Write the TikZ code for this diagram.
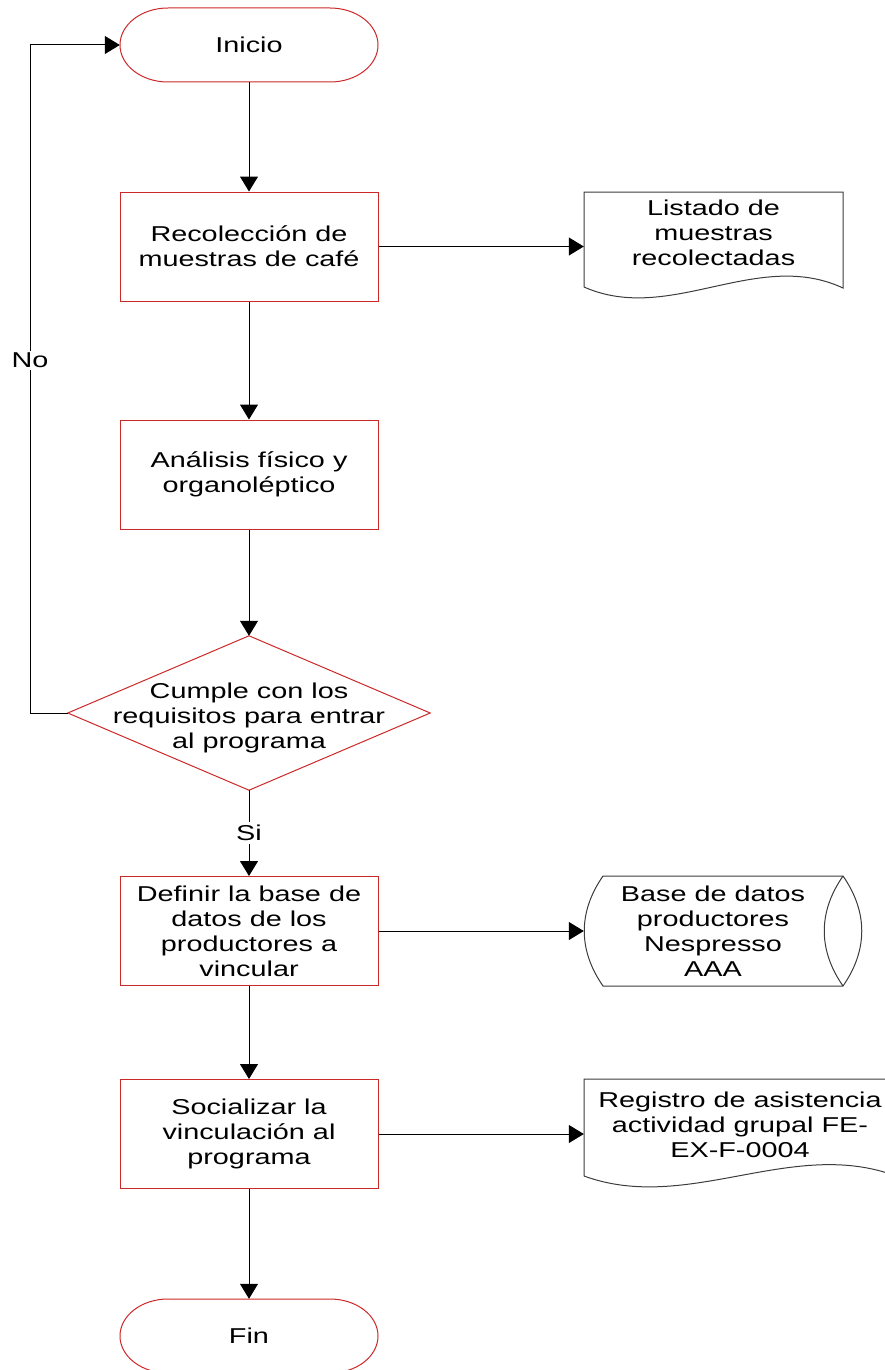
\documentclass[tikz,border=0pt]{standalone}
\usepackage{fontspec}
\setmainfont{Liberation Sans}[FakeStretch=1.34]
\usetikzlibrary{arrows.meta,calc}
\definecolor{boxred}{RGB}{205,40,40}
\definecolor{inkgray}{RGB}{60,60,60}

\tikzset{
  flow/.style={draw=black, line width=1pt, -{Triangle[length=15pt,width=18pt]}},
  plainline/.style={draw=black, line width=1pt},
  redline/.style={draw=boxred, line width=1pt},
  grayline/.style={draw=inkgray, line width=1pt},
  lbl/.style={font=\fontsize{21.5}{25}\selectfont, align=center, inner sep=0pt, text=black},
  tag/.style={lbl, fill=white, inner sep=3pt},
  procbox/.style={lbl, draw=boxred, line width=1pt, minimum width=258pt, minimum height=109pt},
  frame/.style={inner sep=0pt, draw=none},
}

\begin{document}
\begin{tikzpicture}[x=1pt,y=1pt]
\useasboundingbox (0,0) rectangle (885,-1370);

% start terminator
\node[frame, minimum width=258pt, minimum height=74pt] (inicio) at (249,-45) {};
\node[lbl] (inicioTxt) at (inicio.center) {Inicio};
\draw[redline, shift={(inicio.center)}] (-81,37) -- (81,37)
  arc[start angle=90, end angle=-90, x radius=48, y radius=37] -- (-81,-37)
  arc[start angle=270, end angle=90, x radius=48, y radius=37] -- cycle;

% process steps
\node[procbox] (recol) at (249,-246.5) {Recolección de\\muestras de café};
\node[procbox] (anal) at (249,-474.5) {Análisis físico y\\organoléptico};
\node[procbox] (defin) at (249,-931) {Definir la base de\\datos de los\\productores a\\vincular};
\node[procbox] (social) at (249,-1134) {Socializar la\\vinculación al\\programa};

% decision
\node[frame, minimum width=362pt, minimum height=154pt] (cumple) at (249,-713) {};
\node[lbl] (cumpleTxt) at (249,-718) {Cumple con los\\requisitos para entrar\\al programa};
\draw[redline] (cumple.north) -- (cumple.east) -- (cumple.south) -- (cumple.west) -- cycle;

% end terminator
\node[frame, minimum width=258pt, minimum height=74pt] (fin) at (249,-1336) {};
\node[lbl] (finTxt) at (fin.center) {Fin};
\draw[redline, shift={(fin.center)}] (-81,37) -- (81,37)
  arc[start angle=90, end angle=-90, x radius=48, y radius=37] -- (-81,-37)
  arc[start angle=270, end angle=90, x radius=48, y radius=37] -- cycle;

% document: sample list
\node[frame, minimum width=259pt, minimum height=108pt] (listado) at (713.5,-246.5) {};
\node[lbl] (listadoTxt) at (713.5,-233) {Listado de\\muestras\\recolectadas};
\draw[grayline] (584,-287) -- (584,-192) -- (843,-192) -- (843,-288)
  .. controls (757,-248) and (670,-325) .. (584,-287);

% stored data: producers database
\node[frame, minimum width=259pt, minimum height=110pt] (basedatos) at (713.5,-931) {};
\node[lbl] (basedatosTxt) at (713,-931) {Base de datos\\productores\\Nespresso\\AAA};
\draw[grayline] (603,-876) -- (843,-876) .. controls (868,-912) and (868,-950) .. (843,-986)
  -- (603,-986) .. controls (578,-950) and (578,-912) .. (603,-876) -- cycle;
\draw[grayline] (843,-876) .. controls (818,-912) and (818,-950) .. (843,-986);

% document: attendance record
\node[frame, minimum width=312pt, minimum height=108pt] (registro) at (740,-1134) {};
\node[lbl] (registroTxt) at (740,-1125) {Registro de asistencia\\actividad grupal FE-\\EX-F-0004};
\draw[grayline] (584,-1176) -- (584,-1079) -- (896,-1079) -- (896,-1176)
  .. controls (792,-1137) and (688,-1214) .. (584,-1176);

% connectors
\draw[flow] (inicio) -- (recol);
\draw[flow] (recol) -- (anal);
\draw[flow] (anal) -- (cumple);
\draw[flow] (recol.east) -- (listado.west);
\draw[flow] (cumple.south) -- node[tag] (si) {Si} (defin.north);
\draw[flow] (defin.east) -- (basedatos.west);
\draw[flow] (defin) -- (social);
\draw[flow] (social.east) -- (registro.west);
\draw[flow] (social) -- (fin);

% "No" loop back to the start
\coordinate (loopBot) at (30,-713);
\coordinate (loopTop) at (30,-45);
\draw[flow] (cumple.west) -- (loopBot) -- node[tag, pos=0.528, inner sep=2pt] (no) {No} (loopTop) -- (inicio.west);

\end{tikzpicture}
\end{document}
